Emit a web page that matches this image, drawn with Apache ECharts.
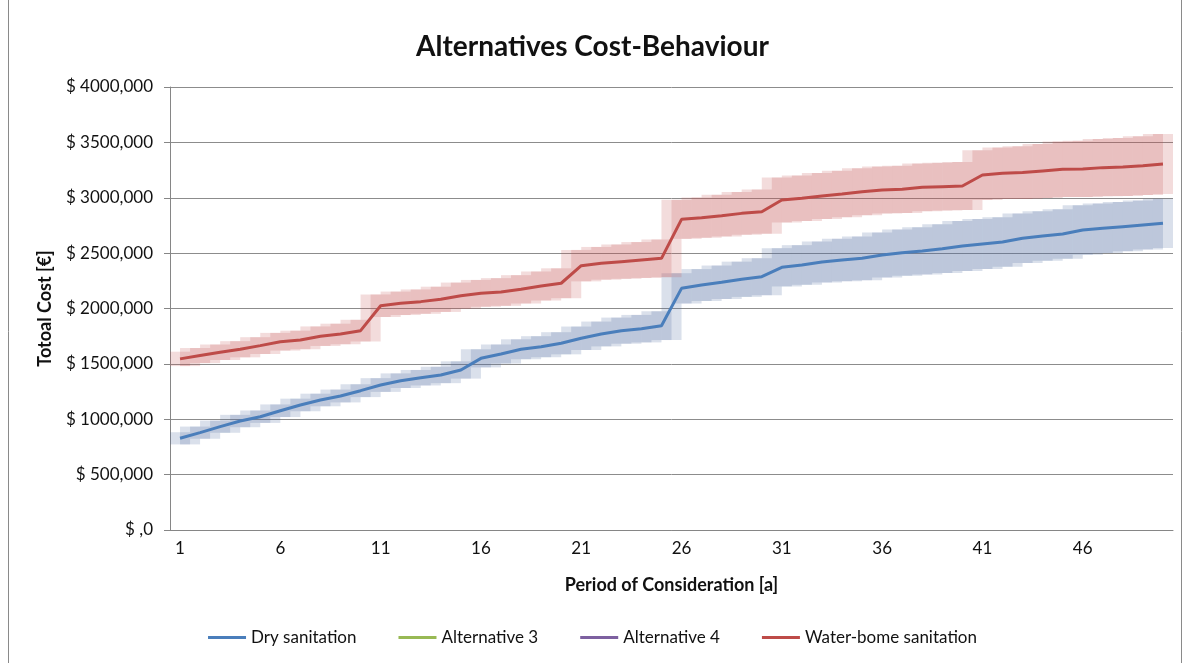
<!DOCTYPE html>
<html>
<head>
<meta charset="utf-8">
<title>Alternatives Cost-Behaviour</title>
<script src="https://cdn.jsdelivr.net/npm/echarts@6/dist/echarts.min.js"></script>
<style>
html, body { margin: 0; padding: 0; background: #fff; }
#container { width: 1185px; height: 663px; }
</style>
</head>
<body>
<div id="container"></div>
<script>
// period of consideration (years)
var years = [];
for (var y = 1; y <= 50; y++) years.push(String(y));

// total cost in thousands
var dry = [828, 879, 933, 984, 1023, 1077, 1129, 1174, 1210, 1258,
	1309, 1348, 1375, 1400, 1445, 1550, 1589, 1632, 1655, 1686,
	1731, 1770, 1800, 1818, 1845, 2182, 2212, 2237, 2264, 2287,
	2372, 2393, 2420, 2438, 2453, 2483, 2504, 2520, 2540, 2564,
	2582, 2600, 2634, 2655, 2673, 2709, 2724, 2739, 2754, 2769];
var water = [1545, 1575, 1605, 1632, 1665, 1700, 1716, 1750, 1770, 1800,
	2025, 2047, 2062, 2083, 2116, 2137, 2149, 2173, 2203, 2228,
	2387, 2408, 2423, 2438, 2453, 2805, 2820, 2838, 2859, 2874,
	2980, 2995, 3016, 3034, 3055, 3070, 3076, 3094, 3100, 3106,
	3205, 3221, 3227, 3242, 3257, 3260, 3272, 3277, 3290, 3305];

// half height of the uncertainty boxes (thousands)
var dryErr = [55, 55, 55, 56, 56, 57, 57, 57, 58, 58,
	62, 66, 70, 74, 78, 82, 86, 90, 95, 100,
	106, 112, 118, 124, 130, 137, 144, 151, 159, 167,
	173, 179, 185, 191, 197, 203, 209, 214, 220, 225,
	225, 224, 224, 224, 223, 223, 223, 222, 222, 222];
var waterErr = [65, 68, 70, 73, 76, 80, 84, 88, 93, 98,
	102, 106, 110, 114, 118, 121, 125, 128, 131, 135,
	142, 148, 155, 162, 170, 176, 182, 188, 194, 200,
	203, 206, 208, 210, 212, 213, 214, 215, 216, 217,
	225, 232, 238, 244, 250, 254, 258, 262, 266, 271];

var yTicks = [0, 500, 1000, 1500, 2000, 2500, 3000, 3500, 4000];

var FONT = 'Lato, "Open Sans", sans-serif';

function boxData(vals, errs) {
	var out = [];
	for (var i = 0; i < vals.length; i++) {
		var n = i + 1 < vals.length ? i + 1 : i;
		out.push([i, vals[i], errs[i], vals[n], errs[n], n - i]);
	}
	return out;
}

function makeBox(fill) {
	return function(params, api) {
		var i = api.value(0), v = api.value(1), e = api.value(2);
		var v2 = api.value(3), e2 = api.value(4), hasNext = api.value(5);
		var bw = api.size([1, 0])[0];
		var p = api.coord([i, v]);
		var top = api.coord([i, v + e])[1], bot = api.coord([i, v - e])[1];
		var children = [{
			type : 'rect',
			shape : { x : p[0] - bw / 2, y : top, width : bw, height : bot - top },
			style : { fill : fill }
		}];
		if (hasNext) {
			var hi = Math.max(v + e, v2 + e2), lo = Math.min(v - e, v2 - e2);
			var t2 = api.coord([i, hi])[1], b2 = api.coord([i, lo])[1];
			children.push({
				type : 'rect',
				shape : { x : p[0], y : t2, width : bw, height : b2 - t2 },
				style : { fill : fill }
			});
		}
		return { type : 'group', children : children };
	};
}

var dom = document.getElementById('container');
var myChart = echarts.init(dom);
var option = {
	animation : false,
	backgroundColor : '#fff',
	title : {
		text : 'Alternatives Cost-Behaviour',
		left : 'center',
		top : 28,
		textStyle : { fontFamily : FONT, fontSize : 28, fontWeight : 'bold', color : '#111' }
	},
	graphic : [ {
		type : 'rect',
		shape : { x : 8.5, y : -5, width : 1173, height : 680 },
		style : { fill : 'none', stroke : '#8a8a8a', lineWidth : 1 }
	} ],
	legend : {
		bottom : 12,
		left : 'center',
		itemGap : 42,
		itemWidth : 38,
		itemHeight : 3,
		icon : 'rect',
		textStyle : { fontFamily : FONT, fontSize : 17, color : '#111' },
		data : [ 'Dry sanitation', 'Alternative 3', 'Alternative 4', 'Water-bome sanitation' ]
	},
	grid : { left : 170, right : 12, top : 87, bottom : 133 },
	xAxis : {
		type : 'category',
		data : years,
		boundaryGap : true,
		name : 'Period of Consideration [a]',
		nameLocation : 'middle',
		nameGap : 46,
		nameTextStyle : { fontFamily : FONT, fontSize : 18, fontWeight : 'bold', color : '#111' },
		axisLine : { lineStyle : { color : '#868686', width : 1 } },
		axisTick : { interval : 0, length : 6, lineStyle : { color : '#868686' } },
		axisLabel : { interval : 4, fontFamily : FONT, fontSize : 17, color : '#111', margin : 10 },
		splitLine : { show : false }
	},
	yAxis : {
		type : 'value',
		min : yTicks[0],
		max : yTicks[yTicks.length - 1],
		interval : 500,
		name : 'Totoal Cost [€]',
		nameLocation : 'middle',
		nameGap : 116,
		nameTextStyle : { fontFamily : FONT, fontSize : 18, fontWeight : 'bold', color : '#111' },
		axisLine : { show : true, lineStyle : { color : '#868686', width : 1 } },
		axisTick : { show : true, length : 6, lineStyle : { color : '#868686' } },
		axisLabel : {
			fontFamily : FONT, fontSize : 17, color : '#111', margin : 17,
			formatter : function(v) { return v === 0 ? '$ ,0' : '$ ' + v + ',000'; }
		},
		splitLine : { lineStyle : { color : '#8c8c8c', width : 1 } }
	},
	series : [ {
		name : 'dry band',
		type : 'custom',
		renderItem : makeBox('rgba(78,110,160,0.21)'),
		data : boxData(dry, dryErr),
		silent : true,
		clip : true,
		z : 1
	}, {
		name : 'water band',
		type : 'custom',
		renderItem : makeBox('rgba(196,80,78,0.2)'),
		data : boxData(water, waterErr),
		silent : true,
		clip : true,
		z : 1
	}, {
		name : 'Dry sanitation',
		type : 'line',
		data : dry,
		color : '#4A7EBB',
		symbol : 'none',
		lineStyle : { width : 3, color : '#4A7EBB' },
		z : 3
	}, {
		name : 'Alternative 3',
		type : 'line',
		data : [],
		color : '#98B954',
		symbol : 'none',
		lineStyle : { width : 3 }
	}, {
		name : 'Alternative 4',
		type : 'line',
		data : [],
		color : '#7D60A0',
		symbol : 'none',
		lineStyle : { width : 3 }
	}, {
		name : 'Water-bome sanitation',
		type : 'line',
		data : water,
		color : '#BE4B48',
		symbol : 'none',
		lineStyle : { width : 3, color : '#BE4B48' },
		z : 3
	} ]
};
myChart.setOption(option, true);
</script>
</body>
</html>
